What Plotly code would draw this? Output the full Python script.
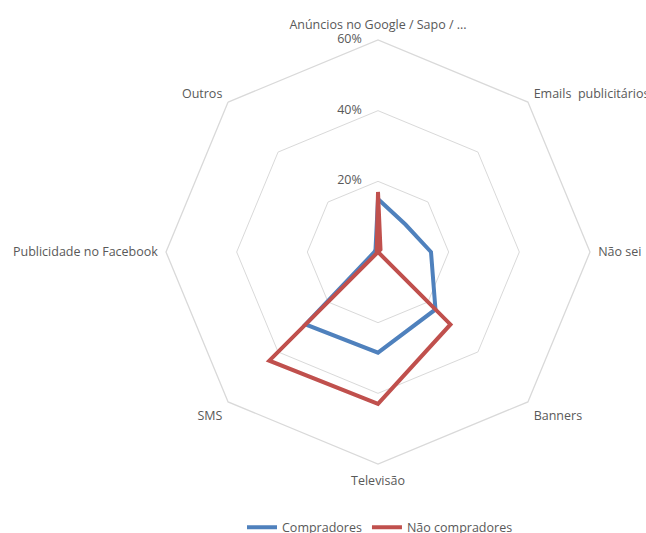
import plotly.graph_objects as go

categories = ["Anúncios no Google / Sapo / ...", "Emails  publicitários", "Não sei", "Banners",
              "Televisão", "SMS", "Publicidade no Facebook", "Outros"]
compradores = [15, 11, 15, 23, 28.5, 29, 1, 1]
nao_compradores = [17, 1, 0, 29, 43, 43.5, 0, 0.5]
radial_ticks = [0, 20, 40, 60]
radial_labels = ["0%", "20%", "40%", "60%"]

W, H = 646, 533
cx, cy, R = 378, 252, 212

fig = go.Figure()
fig.add_trace(go.Scatterpolar(
    r=compradores + [compradores[0]], theta=categories + [categories[0]],
    mode="lines", name="Compradores",
    line=dict(color="#4F81BD", width=4)))
fig.add_trace(go.Scatterpolar(
    r=nao_compradores + [nao_compradores[0]], theta=categories + [categories[0]],
    mode="lines", name="Não compradores",
    line=dict(color="#C0504D", width=4)))
# radial tick labels, placed left of the vertical spoke
fig.add_trace(go.Scatterpolar(
    r=radial_ticks, theta=[categories[0]] * len(radial_ticks),
    mode="text", text=[t + "\u00a0" * 5 for t in radial_labels],
    textposition="middle left", textfont=dict(size=12.5, color="#595959"),
    showlegend=False, hoverinfo="skip", cliponaxis=False))

fig.update_layout(
    width=W, height=H,
    margin=dict(l=0, r=0, t=0, b=0, autoexpand=False),
    paper_bgcolor="white",
    font=dict(family="Open Sans, Noto Sans, sans-serif", size=12.5, color="#595959"),
    polar=dict(
        domain=dict(x=[(cx - R) / W, (cx + R) / W], y=[1 - (cy + R) / H, 1 - (cy - R) / H]),
        bgcolor="white",
        gridshape="linear",
        radialaxis=dict(range=[0, 60], tickvals=radial_ticks, showticklabels=False,
                        angle=90, showline=False, ticks="", gridcolor="#D9D9D9", gridwidth=1.3),
        angularaxis=dict(direction="clockwise", rotation=90, showgrid=False,
                         showline=True, linecolor="#D9D9D9", linewidth=1.3,
                         ticks="outside", ticklen=5, tickcolor="rgba(0,0,0,0)",
                         tickfont=dict(size=12.5, color="#595959")),
    ),
    legend=dict(orientation="h", x=380 / W, xanchor="center", y=-0.018, yanchor="bottom",
                font=dict(size=12.5, color="#595959"), itemwidth=30, tracegroupgap=0),
)
fig.write_html("out.html", config={"displayModeBar": False},
               post_script="document.body.style.margin='0px';")
